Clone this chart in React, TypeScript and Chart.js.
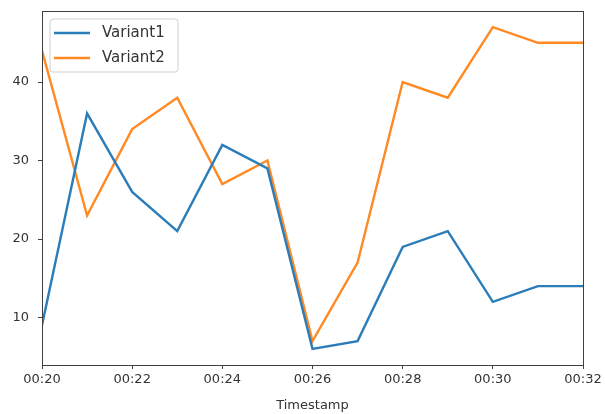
import React, { useEffect, useRef } from "react";
import { Chart, registerables } from "chart.js";

Chart.register(...registerables);

const minutes = [20, 21, 22, 23, 24, 25, 26, 27, 28, 29, 30, 31, 32];
const variant1 = [9, 36, 26, 21, 32, 29, 6, 7, 19, 21, 12, 14, 14];
const variant2 = [44, 23, 34, 38, 27, 30, 7, 17, 40, 38, 47, 45, 45];
const yTicks = [10, 20, 30, 40];
const seriesNames = ["Variant1", "Variant2"];
const seriesColors = ["#2a7db8", "#ff8a24"];

const FONT = "'DejaVu Sans', sans-serif";

const framePlugin = {
  id: "frame",
  afterDraw(chart: any) {
    const { ctx, chartArea } = chart;
    ctx.save();
    ctx.strokeStyle = "#404040";
    ctx.lineWidth = 1;
    ctx.strokeRect(
      Math.round(chartArea.left) + 0.5,
      Math.round(chartArea.top) + 0.5,
      Math.round(chartArea.right - chartArea.left),
      Math.round(chartArea.bottom - chartArea.top)
    );
    ctx.restore();
  },
};

const legendPlugin = {
  id: "innerLegend",
  afterDraw(chart: any) {
    const { ctx, chartArea } = chart;
    const x = chartArea.left + 8;
    const y = chartArea.top + 8;
    const w = 128;
    const h = 53;
    ctx.save();
    ctx.fillStyle = "rgba(255,255,255,0.85)";
    ctx.strokeStyle = "#d0d0d0";
    ctx.lineWidth = 1;
    ctx.beginPath();
    const r = 3;
    ctx.moveTo(x + r, y);
    ctx.lineTo(x + w - r, y);
    ctx.quadraticCurveTo(x + w, y, x + w, y + r);
    ctx.lineTo(x + w, y + h - r);
    ctx.quadraticCurveTo(x + w, y + h, x + w - r, y + h);
    ctx.lineTo(x + r, y + h);
    ctx.quadraticCurveTo(x, y + h, x, y + h - r);
    ctx.lineTo(x, y + r);
    ctx.quadraticCurveTo(x, y, x + r, y);
    ctx.closePath();
    ctx.fill();
    ctx.stroke();
    chart.data.datasets.forEach((ds: any, i: number) => {
      const ly = y + 14 + i * 25;
      ctx.strokeStyle = ds.borderColor;
      ctx.lineWidth = 2.4;
      ctx.beginPath();
      ctx.moveTo(x + 4, ly);
      ctx.lineTo(x + 40, ly);
      ctx.stroke();
      ctx.fillStyle = "#333333";
      ctx.font = "15px " + FONT;
      ctx.textBaseline = "middle";
      ctx.textAlign = "left";
      ctx.fillText(ds.label, x + 52, ly);
    });
    ctx.restore();
  },
};

export default function App() {
  const ref = useRef<HTMLCanvasElement>(null);
  useEffect(() => {
    if (!ref.current) return;
    const tickFont = { family: FONT, size: 13 };
    const chart = new Chart(ref.current, {
      type: "line",
      data: {
        datasets: [variant1, variant2].map((vals, i) => ({
          label: seriesNames[i],
          data: minutes.map((m, j) => ({ x: m, y: vals[j] })),
          borderColor: seriesColors[i],
          backgroundColor: seriesColors[i],
          borderWidth: 2.4,
          pointRadius: 0,
          tension: 0,
          fill: false,
        })),
      },
      options: {
        responsive: false,
        animation: false,
        layout: { padding: { top: 11, right: 22, left: 0, bottom: 0 } },
        plugins: { legend: { display: false }, tooltip: { enabled: false } },
        scales: {
          x: {
            type: "linear",
            min: 20,
            max: 32,
            ticks: {
              stepSize: 2,
              color: "#333333",
              font: tickFont,
              padding: 3,
              maxRotation: 0,
              callback: (v: any) => "00:" + String(v).padStart(2, "0"),
            },
            grid: {
              drawOnChartArea: false,
              drawTicks: true,
              tickLength: 4,
              tickColor: "#404040",
            },
            border: { display: false },
            title: {
              display: true,
              text: "Timestamp",
              color: "#333333",
              font: tickFont,
              padding: { top: 0, bottom: 1 },
            },
            afterFit: (s: any) => {
              s.height = 49;
              s.paddingLeft = 0;
              s.paddingRight = 0;
            },
          },
          y: {
            type: "linear",
            min: 3.95,
            max: 49.05,
            afterBuildTicks: (s: any) => {
              s.ticks = yTicks.map((v) => ({ value: v }));
            },
            ticks: {
              color: "#333333",
              font: tickFont,
              padding: 9,
            },
            grid: {
              drawOnChartArea: false,
              drawTicks: true,
              tickLength: 4,
              tickColor: "#404040",
            },
            border: { display: false },
            afterFit: (s: any) => {
              s.width = 42;
              s.paddingTop = 0;
              s.paddingBottom = 0;
            },
          },
        },
      },
      plugins: [framePlugin, legendPlugin],
    } as any);
    return () => chart.destroy();
  }, []);
  return (
    <div style={{ position: "absolute", left: 0, top: 0, width: 605, height: 414, background: "#fff" }}>
      <canvas ref={ref} width={605} height={414} />
    </div>
  );
}
